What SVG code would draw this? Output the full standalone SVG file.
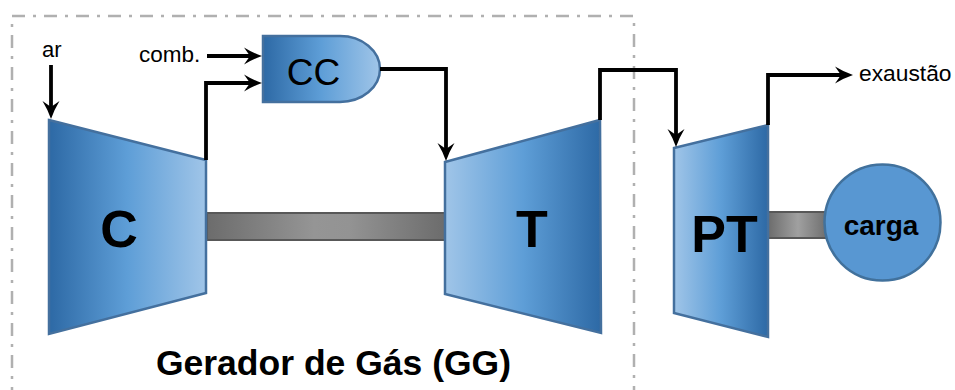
<svg xmlns="http://www.w3.org/2000/svg" width="955" height="390" viewBox="0 0 955 390">
<style>
.blade{stroke:#44709e;stroke-width:2.5;stroke-linejoin:miter}
.conn{fill:none;stroke:#000;stroke-width:3.8;stroke-linejoin:miter}
.lbl{font-family:"Liberation Sans",Arial,sans-serif;fill:#000}
.big{font-weight:bold;font-size:52px;text-anchor:middle}
.shaft{stroke:#585858;stroke-width:2}
</style>
<defs>
<linearGradient id="gDarkLeft" x1="0" y1="0" x2="1" y2="0">
<stop offset="0" stop-color="#2d69a5"/>
<stop offset="0.5" stop-color="#5e9ed7"/>
<stop offset="1" stop-color="#a0c5e8"/>
</linearGradient>
<linearGradient id="gDarkRight" x1="0" y1="0" x2="1" y2="0">
<stop offset="0" stop-color="#a0c5e8"/>
<stop offset="0.5" stop-color="#5e9ed7"/>
<stop offset="1" stop-color="#2d69a5"/>
</linearGradient>
<linearGradient id="gShaft" x1="0" y1="0" x2="1" y2="0">
<stop offset="0" stop-color="#6c6c6c"/>
<stop offset="0.45" stop-color="#959595"/>
<stop offset="0.6" stop-color="#939393"/>
<stop offset="1" stop-color="#6c6c6c"/>
</linearGradient>
<linearGradient id="gShaft2" x1="0" y1="0" x2="1" y2="0">
<stop offset="0" stop-color="#6c6c6c"/>
<stop offset="0.5" stop-color="#a0a0a0"/>
<stop offset="1" stop-color="#6c6c6c"/>
</linearGradient>
<marker id="arr" viewBox="0 0 18 18" refX="13" refY="9" markerWidth="18" markerHeight="18" markerUnits="userSpaceOnUse" orient="auto">
<path d="M0,0.5 Q9,6 18,9 Q9,12 0,17.5 L6,9 Z" fill="#000"/>
</marker>
</defs>

<rect width="955" height="390" fill="#fff"/>

<g id="gg-boundary">
<path d="M12,400 V16 H634 V400" fill="none" stroke="#b0b0b0" stroke-width="2.5" stroke-dasharray="13 8 3 8"/>
<text class="lbl" x="333.5" y="375" font-size="35.5" font-weight="bold" text-anchor="middle">Gerador de Gás (GG)</text>
</g>

<g id="shafts">
<rect class="shaft" x="207" y="213" width="238" height="27" fill="url(#gShaft)"/>
<rect class="shaft" x="768" y="212" width="60" height="26" fill="url(#gShaft2)"/>
</g>

<g id="compressor">
<polygon class="blade" points="49,120 206,160 206,293 49,334" fill="url(#gDarkLeft)"/>
<text class="lbl big" x="119" y="247">C</text>
</g>

<g id="combustor">
<path class="blade" d="M263,36 H340 A40,33 0 0 1 380,69 A40,33 0 0 1 340,102 H263 Z" fill="url(#gDarkLeft)"/>
<text class="lbl" x="313.5" y="85" font-size="37" text-anchor="middle">CC</text>
</g>

<g id="turbine">
<polygon class="blade" points="445,162 600,120 601,333 445,294" fill="url(#gDarkRight)"/>
<text class="lbl big" x="532" y="247">T</text>
</g>

<g id="power-turbine">
<polygon class="blade" points="674,148 768,125 768,337 674,313" fill="url(#gDarkRight)"/>
<text class="lbl big" x="724.5" y="252">PT</text>
</g>

<g id="carga">
<circle cx="882.5" cy="222.5" r="58" fill="#5897d2" stroke="#41719c" stroke-width="2.5"/>
<text class="lbl" x="881" y="235" font-size="28" font-weight="bold" text-anchor="middle">carga</text>
</g>

<g id="labels">
<text class="lbl" x="42" y="57" font-size="22">ar</text>
<text class="lbl" x="139" y="62" font-size="22.5">comb.</text>
<text class="lbl" x="859" y="81" font-size="22.8">exaustão</text>
</g>

<g id="connectors">
<path class="conn" d="M51,65 V114" marker-end="url(#arr)"/>
<path class="conn" d="M207,56 H257" marker-end="url(#arr)"/>
<path class="conn" d="M206,160 V83 H257" marker-end="url(#arr)"/>
<path class="conn" d="M380,69 H446 V156" marker-end="url(#arr)"/>
<path class="conn" d="M600,120 V70 H676 V142" marker-end="url(#arr)"/>
<path class="conn" d="M768,125 V75 H848" marker-end="url(#arr)"/>
</g>
</svg>
